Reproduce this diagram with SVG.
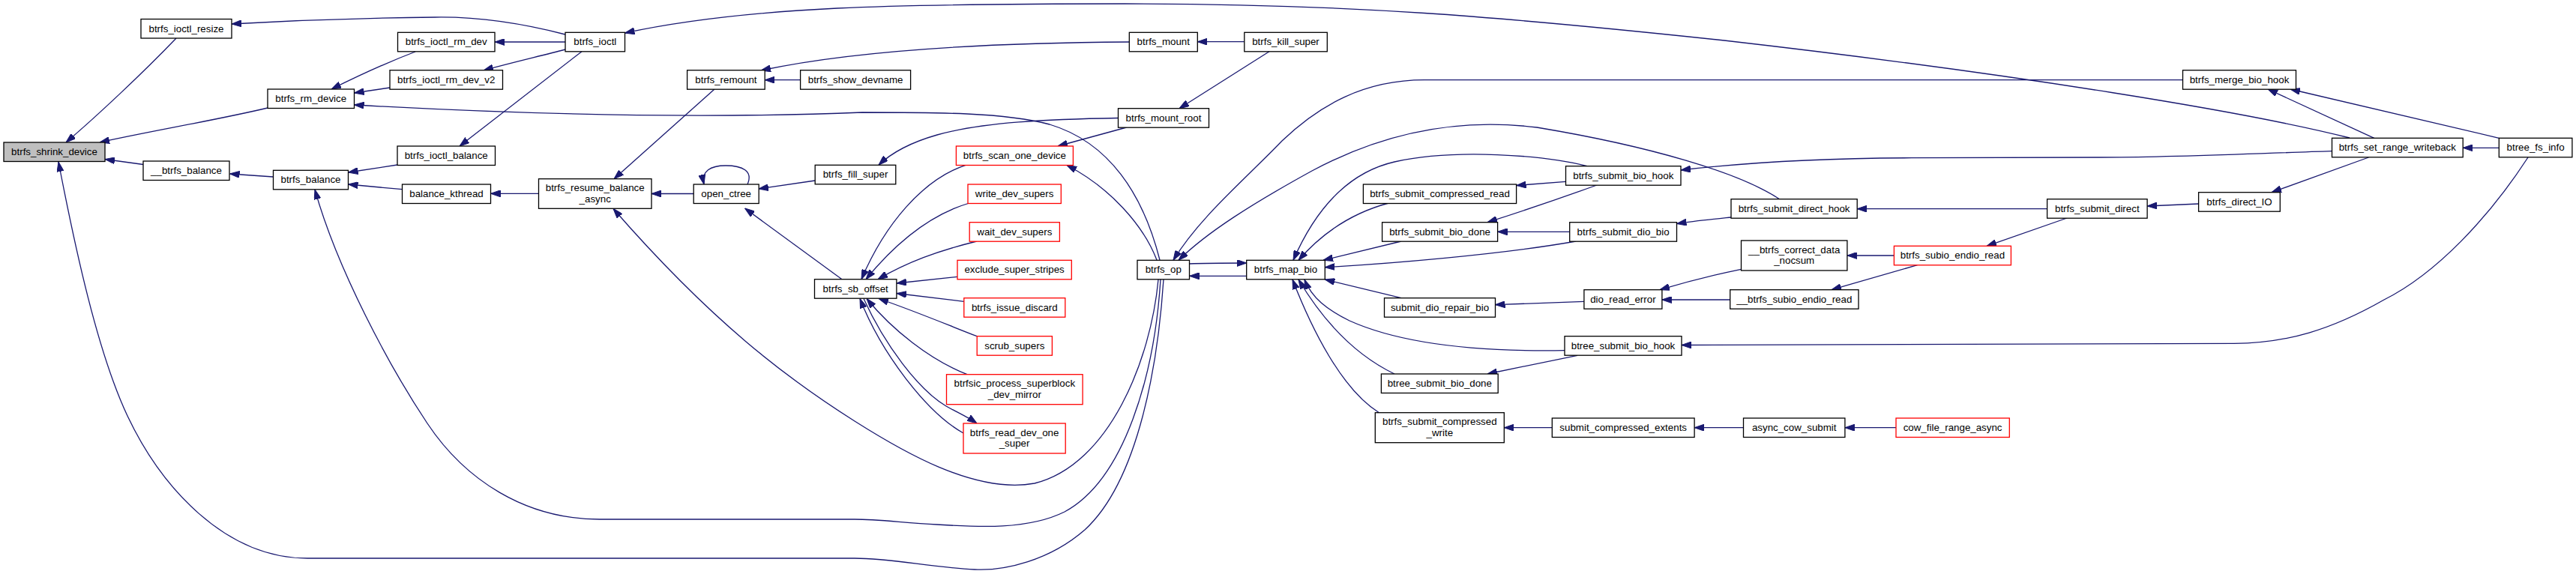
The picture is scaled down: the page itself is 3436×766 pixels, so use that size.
<svg xmlns="http://www.w3.org/2000/svg" width="3436" height="766" viewBox="0 0 3436 766">
<style>
.n rect{fill:#fff;stroke:#000;stroke-width:1.3}
.n.red rect{stroke:#f00}
.n.root rect{fill:#bfbfbf}
.n text{font-family:"Liberation Sans",Arial,Helvetica,sans-serif;font-size:13.33px;text-anchor:middle;fill:#000}
#edges path{fill:none;stroke:#191970;stroke-width:1.3;marker-end:url(#ah)}
</style>
<defs>
<marker id="ah" viewBox="0 0 13 9" refX="13" refY="4.5" markerWidth="13" markerHeight="9" markerUnits="userSpaceOnUse" orient="auto">
<path d="M0,0 L13,4.5 L0,9 z" fill="#191970" stroke="#191970" stroke-width="1"/>
</marker>
</defs>
<rect width="3436" height="766" fill="#fff"/>
<g id="edges">
<path d="M235,51 C190,98 128,156 88,190"/>
<path d="M357,144 C290,160 200,175 133,190"/>
<path d="M191,219.5 L140,212.5"/>
<path d="M1552,373 C1545,480 1520,640 1447,707 C1400,748 1340,762 1300,760 C1240,757 1190,745 1140,745 L410,745 C300,745 215,650 170,555 C130,470 100,330 78,216"/>
<path d="M554,69 C520,82 480,100 442,119"/>
<path d="M520,117 L472.5,124"/>
<path d="M1547,347 C1525,260 1480,190 1400,166 C1340,150 1250,150 1150,150 C900,160 650,150 472.5,140"/>
<path d="M364.5,236 L306.5,232"/>
<path d="M530,220 L464.5,230"/>
<path d="M536.5,252.7 L464.5,246"/>
<path d="M1548,373 C1540,500 1500,640 1420,683 C1370,708 1300,703 1250,700 C1200,697 1170,693 1140,693 L800,693 C700,693 620,640 570,565 C520,490 450,360 420,253"/>
<path d="M754,46 C700,32 640,22 580,23 C480,24 380,28 309,32"/>
<path d="M754,56 L660,56"/>
<path d="M754,66 C720,75 680,84 645,94"/>
<path d="M776,68.7 L613,195"/>
<path d="M3134,184 C3000,150 2700,100 2300,54 C2000,22 1800,5 1500,5 C1200,5 1000,8 833.5,44"/>
<path d="M718.5,258.3 L654.5,258.3"/>
<path d="M953,119 L819,238.7"/>
<path d="M925,258.5 L869,258.5"/>
<path d="M1545,373 C1535,480 1480,620 1380,645 C1300,660 1200,600 1140,562 C1050,505 950,430 818,278.5"/>
<path d="M1067.6,106.7 L1020.2,106.7"/>
<path d="M1506,56 C1350,57 1150,65 1015,94"/>
<path d="M997,246 C1005,228 990,221 968,221 C948,221 935,228 939,246"/>
<path d="M1087,241 L1012,252"/>
<path d="M1123,372.7 L993.5,278"/>
<path d="M1491.5,157.5 C1400,159 1310,163 1250,180 C1215,190 1190,203 1172,220.3"/>
<path d="M1659.8,55.7 L1597.3,55.7"/>
<path d="M1693,68.7 L1573,144.7"/>
<path d="M1502.6,170 L1411,195"/>
<path d="M1543,347 C1525,300 1480,250 1423,220.5"/>
<path d="M1288,220.3 C1230,240 1180,300 1149,372.7"/>
<path d="M1293,271 C1235,288 1190,330 1155,372.7"/>
<path d="M1302.8,322 C1250,335 1210,350 1171,372.7"/>
<path d="M1277,369.3 L1196,378"/>
<path d="M1285.8,402.3 L1196,391.5"/>
<path d="M1303,448.7 C1260,432 1220,415 1172,398.5"/>
<path d="M1290,499.7 C1240,480 1190,440 1156,398.5"/>
<path d="M1285,578 C1235,550 1175,470 1147,398.5"/>
<path d="M1152,398.5 C1180,460 1225,520 1262,542 C1278,551 1290,556 1303,565"/>
<path d="M1586.5,352 C1610,351 1640,351 1662.7,351"/>
<path d="M1662.7,368.3 L1586.5,368.3"/>
<path d="M2911.5,106.7 L1900,106.7 C1820,106.7 1760,140 1710,188 C1660,240 1600,290 1565,347.3"/>
<path d="M2374,266 C2320,230 2200,195 2050,170 C1930,155 1830,185 1750,228 C1670,272 1610,310 1572,347.3"/>
<path d="M3110.5,201.7 C3000,205 2900,210 2800,210 L2550,210.7 C2420,211 2320,218 2242,227"/>
<path d="M2117,221.7 C2060,207 1940,198 1860,216 C1790,232 1750,290 1725,347.3"/>
<path d="M1852.4,271 C1800,285 1760,315 1732,347.3"/>
<path d="M1869,322 L1765,347.3"/>
<path d="M2102,322 C2000,340 1850,352 1767.3,356.7"/>
<path d="M1869,397.7 L1767.3,373"/>
<path d="M2087,467.7 C1950,470 1860,455 1800,428 C1770,413 1750,398 1740,373"/>
<path d="M1860,499 C1800,470 1760,420 1732,373"/>
<path d="M1839.5,550.7 C1790,520 1750,440 1724,373"/>
<path d="M2088.5,242.3 L2022.6,247.5"/>
<path d="M2130,247 C2080,265 2030,282 1984,296.7"/>
<path d="M2093.7,309.3 L1997.5,309.3"/>
<path d="M2309,290 C2290,292 2260,295 2236.5,298.5"/>
<path d="M2322.5,359.3 C2280,368 2250,376 2214,386.7"/>
<path d="M2307.7,400 L2216.8,400"/>
<path d="M2112.9,402.3 L1994.5,406.7"/>
<path d="M2104,474.3 L1984,499"/>
<path d="M3372,210 C3320,290 3250,365 3180,400 C3110,440 3050,458 2980,458.3 L2243,460.5"/>
<path d="M2070.3,570.7 L2006.3,570.7"/>
<path d="M2325.5,570.7 L2260.1,570.7"/>
<path d="M2529,570.7 L2460.9,570.7"/>
<path d="M2730.6,278.7 L2477.2,278.7"/>
<path d="M2526.4,341 L2463.9,341"/>
<path d="M2557.5,353.7 L2443,386.7"/>
<path d="M2757,291 L2650,328.3"/>
<path d="M2932.6,272 L2864.1,275"/>
<path d="M3159.4,210 L3030,256.7"/>
<path d="M3166.8,184.3 L3025,119"/>
<path d="M3333.3,184.3 L3055,119"/>
<path d="M3333.3,197.3 L3285.2,197.3"/>
</g>
<g id="n_shrink" class="n root"><rect x="5" y="190" width="135" height="25.5"/><text x="72.5" y="207">btrfs_shrink_device</text></g>
<g id="n_resize" class="n"><rect x="188" y="25.5" width="121" height="25.5"/><text x="248.5" y="42.5">btrfs_ioctl_resize</text></g>
<g id="n_bbalance" class="n"><rect x="191" y="215" width="115" height="25.5"/><text x="248.5" y="232">__btrfs_balance</text></g>
<g id="n_rm" class="n"><rect x="357" y="119" width="115.5" height="25.5"/><text x="414.7" y="136">btrfs_rm_device</text></g>
<g id="n_balance" class="n"><rect x="364.5" y="227.3" width="100" height="25.5"/><text x="414.5" y="244.3">btrfs_balance</text></g>
<g id="n_rmdev" class="n"><rect x="530.5" y="43.3" width="129.5" height="25.5"/><text x="595.2" y="60.3">btrfs_ioctl_rm_dev</text></g>
<g id="n_rmdev2" class="n"><rect x="520" y="93.7" width="150.5" height="25.5"/><text x="595.2" y="110.7">btrfs_ioctl_rm_dev_v2</text></g>
<g id="n_iobal" class="n"><rect x="530" y="195" width="130.5" height="25.5"/><text x="595.2" y="212">btrfs_ioctl_balance</text></g>
<g id="n_kthread" class="n"><rect x="536.5" y="246" width="118" height="25.5"/><text x="595.5" y="263">balance_kthread</text></g>
<g id="n_ioctl" class="n"><rect x="754" y="43.3" width="79.5" height="25.5"/><text x="793.8" y="60.3">btrfs_ioctl</text></g>
<g id="n_resume" class="n"><rect x="718.5" y="238.7" width="150.5" height="39.6"/><text x="793.7" y="255">btrfs_resume_balance</text><text x="793.7" y="269.5">_async</text></g>
<g id="n_remount" class="n"><rect x="916.6" y="93.7" width="103.6" height="25.5"/><text x="968.4" y="110.7">btrfs_remount</text></g>
<g id="n_openctree" class="n"><rect x="925.2" y="246" width="87" height="25.5"/><text x="968.7" y="263">open_ctree</text></g>
<g id="n_showdev" class="n"><rect x="1067.6" y="93.7" width="147" height="25.5"/><text x="1141.1" y="110.7">btrfs_show_devname</text></g>
<g id="n_fill" class="n"><rect x="1087.2" y="220.3" width="107.6" height="25.5"/><text x="1141" y="237.3">btrfs_fill_super</text></g>
<g id="n_sboff" class="n"><rect x="1086.5" y="372.7" width="109.4" height="25.5"/><text x="1141.2" y="389.7">btrfs_sb_offset</text></g>
<g id="n_scan" class="n red"><rect x="1275.4" y="195" width="156" height="25.5"/><text x="1353.4" y="212">btrfs_scan_one_device</text></g>
<g id="n_write" class="n red"><rect x="1291" y="246" width="124.3" height="25.5"/><text x="1353.1" y="263">write_dev_supers</text></g>
<g id="n_wait" class="n red"><rect x="1293.2" y="296.7" width="120.2" height="25.5"/><text x="1353.3" y="313.7">wait_dev_supers</text></g>
<g id="n_exclude" class="n red"><rect x="1277" y="347.3" width="152.3" height="25.5"/><text x="1353.1" y="364.3">exclude_super_stripes</text></g>
<g id="n_discard" class="n red"><rect x="1285.8" y="397.7" width="135" height="25.5"/><text x="1353.3" y="414.7">btrfs_issue_discard</text></g>
<g id="n_scrub" class="n red"><rect x="1303.2" y="448.7" width="100.2" height="25.5"/><text x="1353.3" y="465.7">scrub_supers</text></g>
<g id="n_btrfsic" class="n red"><rect x="1262.5" y="499.7" width="181.6" height="40"/><text x="1353.3" y="516">btrfsic_process_superblock</text><text x="1353.3" y="530.5">_dev_mirror</text></g>
<g id="n_readdev" class="n red"><rect x="1285" y="565" width="136.2" height="40"/><text x="1353.1" y="581.5">btrfs_read_dev_one</text><text x="1353.1" y="596">_super</text></g>
<g id="n_mount" class="n"><rect x="1506.3" y="43.3" width="91" height="25.5"/><text x="1551.8" y="60.3">btrfs_mount</text></g>
<g id="n_mountroot" class="n"><rect x="1491.5" y="144.7" width="121" height="25.5"/><text x="1552" y="161.7">btrfs_mount_root</text></g>
<g id="n_op" class="n"><rect x="1517" y="347.3" width="69.5" height="25.5"/><text x="1551.8" y="364.3">btrfs_op</text></g>
<g id="n_kill" class="n"><rect x="1659.8" y="43.3" width="110.5" height="25.5"/><text x="1715" y="60.3">btrfs_kill_super</text></g>
<g id="n_mapbio" class="n"><rect x="1662.7" y="347.3" width="104.6" height="25.5"/><text x="1715" y="364.3">btrfs_map_bio</text></g>
<g id="n_cread" class="n"><rect x="1818.4" y="246" width="204.2" height="25.5"/><text x="1920.5" y="263">btrfs_submit_compressed_read</text></g>
<g id="n_biodone" class="n"><rect x="1843.6" y="296.7" width="154" height="25.5"/><text x="1920.6" y="313.7">btrfs_submit_bio_done</text></g>
<g id="n_repair" class="n"><rect x="1846.5" y="397.7" width="148" height="25.5"/><text x="1920.5" y="414.7">submit_dio_repair_bio</text></g>
<g id="n_btdone" class="n"><rect x="1842.4" y="499" width="155.8" height="25.5"/><text x="1920.3" y="516">btree_submit_bio_done</text></g>
<g id="n_cwrite" class="n"><rect x="1834.3" y="550.7" width="172" height="40"/><text x="1920.3" y="567">btrfs_submit_compressed</text><text x="1920.3" y="581.5">_write</text></g>
<g id="n_biohook" class="n"><rect x="2088.5" y="221.7" width="153.5" height="25.5"/><text x="2165.3" y="238.7">btrfs_submit_bio_hook</text></g>
<g id="n_diobio" class="n"><rect x="2093.7" y="296.7" width="142.8" height="25.5"/><text x="2165.1" y="313.7">btrfs_submit_dio_bio</text></g>
<g id="n_dioerr" class="n"><rect x="2112.9" y="386.7" width="104" height="25.5"/><text x="2164.9" y="403.7">dio_read_error</text></g>
<g id="n_bthook" class="n"><rect x="2087" y="448.7" width="156" height="25.5"/><text x="2165" y="465.7">btree_submit_bio_hook</text></g>
<g id="n_cext" class="n"><rect x="2070.3" y="558" width="189.8" height="25.5"/><text x="2165.2" y="575">submit_compressed_extents</text></g>
<g id="n_dhook" class="n"><rect x="2309" y="265.7" width="168.2" height="25.5"/><text x="2393.1" y="282.7">btrfs_submit_direct_hook</text></g>
<g id="n_nocsum" class="n"><rect x="2322.5" y="321" width="141.4" height="40"/><text x="2393.2" y="337.5">__btrfs_correct_data</text><text x="2393.2" y="352">_nocsum</text></g>
<g id="n_subio2" class="n"><rect x="2307.7" y="386.7" width="171.3" height="25.5"/><text x="2393.3" y="403.7">__btrfs_subio_endio_read</text></g>
<g id="n_acow" class="n"><rect x="2325.5" y="558" width="135.4" height="25.5"/><text x="2393.2" y="575">async_cow_submit</text></g>
<g id="n_subio" class="n red"><rect x="2526.4" y="328.3" width="156" height="25.5"/><text x="2604.4" y="345.3">btrfs_subio_endio_read</text></g>
<g id="n_cowasync" class="n red"><rect x="2529" y="558" width="151.3" height="25.5"/><text x="2604.6" y="575">cow_file_range_async</text></g>
<g id="n_sdirect" class="n"><rect x="2730.6" y="265.7" width="133.5" height="25.5"/><text x="2797.3" y="282.7">btrfs_submit_direct</text></g>
<g id="n_merge" class="n"><rect x="2911.5" y="93.7" width="151" height="25.5"/><text x="2987" y="110.7">btrfs_merge_bio_hook</text></g>
<g id="n_dio" class="n"><rect x="2932.6" y="256.7" width="108.7" height="25.5"/><text x="2987" y="273.7">btrfs_direct_IO</text></g>
<g id="n_setrange" class="n"><rect x="3110.5" y="184.3" width="174.7" height="25.5"/><text x="3197.8" y="201.3">btrfs_set_range_writeback</text></g>
<g id="n_fsinfo" class="n"><rect x="3333.3" y="184.3" width="97.6" height="25.5"/><text x="3382.1" y="201.3">btree_fs_info</text></g>
</svg>
